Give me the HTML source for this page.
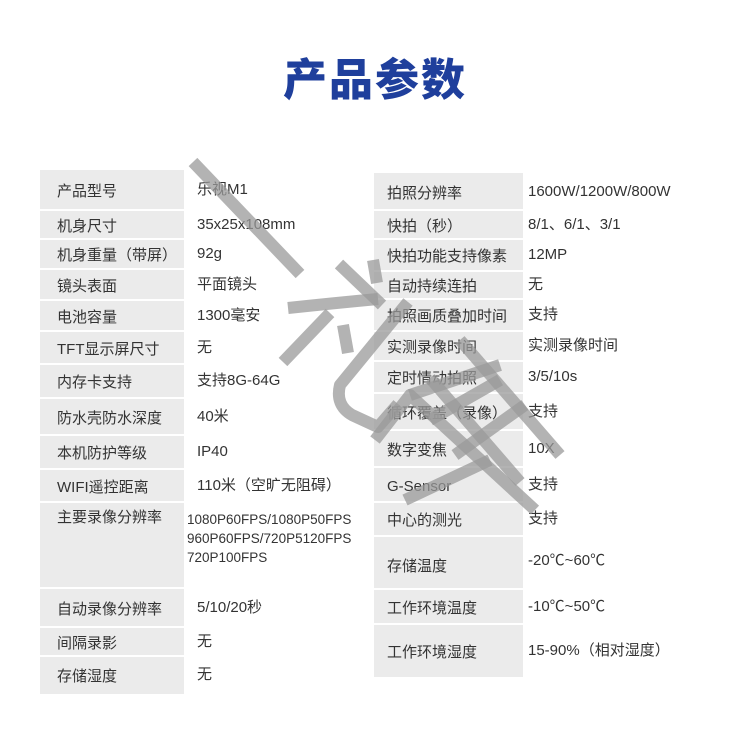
<!DOCTYPE html>
<html><head><meta charset="utf-8"><style>
*{margin:0;padding:0;box-sizing:border-box}
body{width:750px;height:749px;background:#fff;position:relative;overflow:hidden;font-family:"Liberation Sans","Noto Sans CJK SC",sans-serif;color:#333}
.t{position:absolute;left:0;width:750px;top:44px;text-align:center;font-size:44px;font-weight:900;color:#1f3f9c;letter-spacing:2px;font-family:"Noto Sans CJK SC",sans-serif}
.bg{position:absolute;background:#ebebeb}
.ln{position:absolute;height:2px;background:#fff}
.c{position:absolute;font-size:15px;line-height:18px;white-space:nowrap}
svg{position:absolute;left:0;top:0}
</style></head><body>
<div class="t">产品参数</div>
<div class="bg" style="left:40px;top:170px;width:144px;height:524px"></div>
<div class="bg" style="left:374px;top:173px;width:149px;height:504px"></div>
<div id="L"></div><div id="R"></div>
<script>
function rows(x0,w,tops,lx,vx,labels,vals,ov){
 var h='';
 for(var i=0;i<labels.length;i++){
  var a=tops[i],b=tops[i+1],m=(a+b)/2-9;
  var lm=m+2,vm=m;
  if(ov&&ov[i]){lm=ov[i][0];vm=ov[i][1];}
  if(i>0)h+='<div class="ln" style="left:'+x0+'px;width:'+w+'px;top:'+(a-1)+'px"></div>';
  h+='<div class="c" style="left:'+lx+'px;top:'+lm+'px">'+labels[i]+'</div>';
  h+='<div class="c" style="left:'+vx+'px;top:'+vm+'px">'+vals[i]+'</div>';
 }
 return h;
}
document.getElementById('L').innerHTML=rows(40,144,[170,210,239,269,300,331,364,398,435,469,502,588,627,656,694],57,197,
['产品型号','机身尺寸','机身重量（带屏）','镜头表面','电池容量','TFT显示屏尺寸','内存卡支持','防水壳防水深度','本机防护等级','WIFI遥控距离','主要录像分辨率','自动录像分辨率','间隔录影','存储湿度'],
['乐视M1','35x25x108mm','92g','平面镜头','1300毫安','无','支持8G-64G','40米','IP40','110米（空旷无阻碍）','','5/10/20秒','无','无'],
{10:[509,509]});
document.getElementById('R').innerHTML=rows(374,149,[173,210,239,271,299,331,361,393,430,467,502,536,589,624,677],387,528,
['拍照分辨率','快拍（秒）','快拍功能支持像素','自动持续连拍','拍照画质叠加时间','实测录像时间','定时情动拍照','循环覆盖（录像）','数字变焦','G-Sensor','中心的测光','存储温度','工作环境温度','工作环境湿度'],
['1600W/1200W/800W','8/1、6/1、3/1','12MP','无','支持','实测录像时间','3/5/10s','支持','10X','支持','支持','-20℃~60℃','-10℃~50℃','15-90%（相对湿度）'],
{11:[558,552]});
</script>
<div class="c" style="left:187px;top:510px;font-size:13.5px;line-height:19px">1080P60FPS/1080P50FPS<br>960P60FPS/720P5120FPS<br>720P100FPS</div>
<svg width="750" height="749" viewBox="0 0 750 749">
<g stroke="#999" stroke-opacity="0.75" stroke-width="12" fill="none" stroke-linecap="butt" stroke-linejoin="round">
<line x1="193" y1="162" x2="300" y2="274"/>
<line x1="339" y1="264" x2="382" y2="305"/>
<path d="M288 308 Q335 303 378 299"/>
<line x1="283" y1="362" x2="330" y2="313"/>
<line x1="343" y1="325" x2="348" y2="353"/>
<line x1="373" y1="260" x2="377" y2="283"/>
<path d="M408 302 L340 385 Q335 405 352 415 L378 427 L398 404"/>
<path d="M375 440 L410 395 L535 510"/>
<line x1="410" y1="395" x2="500" y2="365"/>
<line x1="460" y1="340" x2="560" y2="455"/>
<line x1="430" y1="420" x2="500" y2="380"/>
<line x1="455" y1="455" x2="525" y2="405"/>
<line x1="430" y1="378" x2="520" y2="482"/>
<line x1="405" y1="500" x2="490" y2="460"/>
</g>
</svg>
</body></html>
